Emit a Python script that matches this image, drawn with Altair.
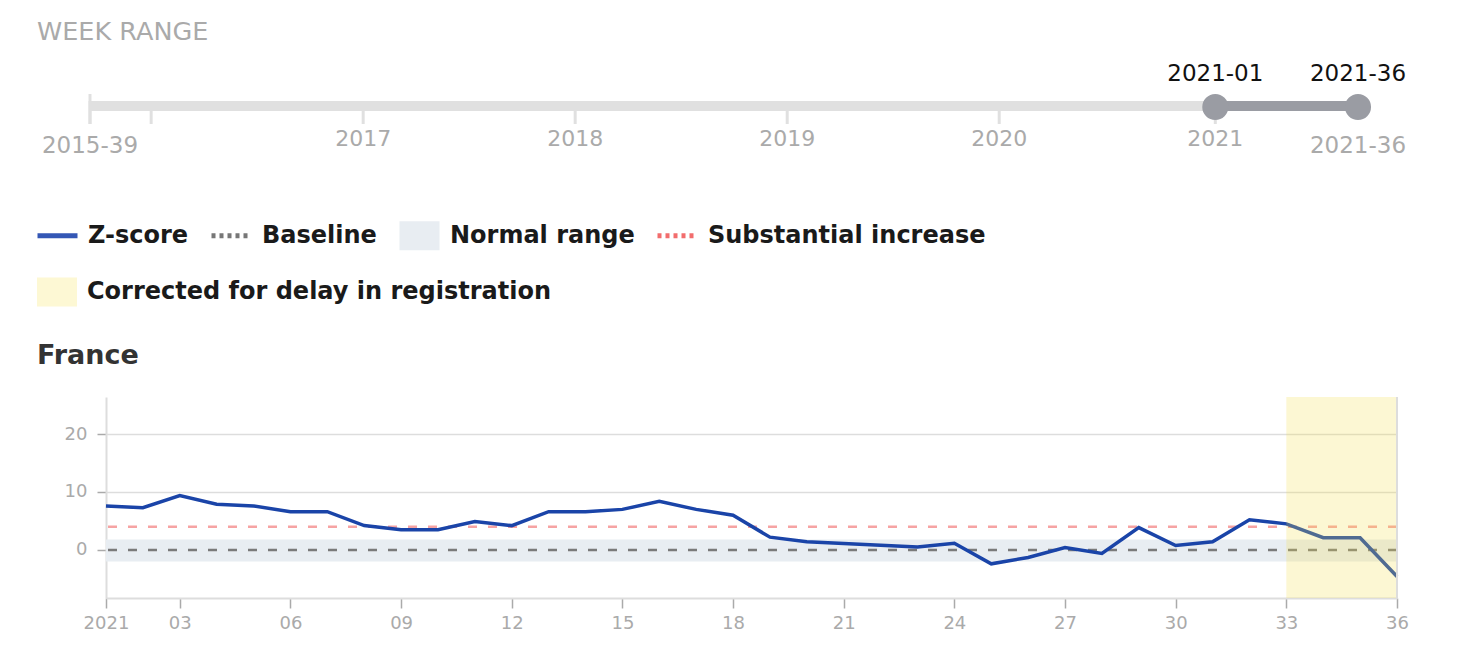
import altair as alt
import pandas as pd

# ---------------- data ----------------
WEEKS = list(range(1, 37))
ZSCORE = [7.6, 7.3, 9.4, 7.9, 7.6, 6.6, 6.6, 4.2, 3.5, 3.5, 4.9, 4.2,
          6.6, 6.6, 7.0, 8.4, 7.0, 6.0, 2.2, 1.4, 1.1, 0.8, 0.5, 1.15,
          -2.4, -1.3, 0.4, -0.6, 3.85, 0.75, 1.4, 5.2, 4.5, 2.1, 2.1, -4.6]
BASELINE = 0.0
NORMAL_LOW = -2.0
NORMAL_HIGH = 1.8
SUBSTANTIAL = 4.0
DELAY_START = 33
DELAY_END = 36
X_TICKS = [1, 3, 6, 9, 12, 15, 18, 21, 24, 27, 30, 33, 36]
Y_TICKS = [0, 10, 20]
Y_DOMAIN = [-8.3, 26.4]

# week-range slider (week index counted from 2015-39)
SLIDER_TICK_WEEKS = [0, 15, 67, 119, 171, 223, 276]
SLIDER_TICK_LABELS = ["", "", "2017", "2018", "2019", "2020", "2021"]
SLIDER_TOTAL = 311
SLIDER_END_WEEKS = [0, 311]
SLIDER_END_LABELS = ["2015-39", "2021-36"]
SEL_WEEKS = [276, 311]
SEL_LABELS = ["2021-01", "2021-36"]

LEGEND_ROW1 = ["Z-score", "Baseline", "Normal range", "Substantial increase"]
LEGEND_ROW2 = ["Corrected for delay in registration"]

FONT = "DejaVu Sans"
W = 1291
H = 201
SW = 1291
SH = 90

# ---------------- slider ----------------
sx = alt.Scale(domain=[0, SLIDER_TOTAL], range=[-16, 1252], nice=False, zero=False)

track_df = pd.DataFrame({"a": [0], "b": [SLIDER_TOTAL]})
ticks_df = pd.DataFrame({"w": SLIDER_TICK_WEEKS, "label": SLIDER_TICK_LABELS})
ends_df = pd.DataFrame({"w": SLIDER_END_WEEKS, "label": SLIDER_END_LABELS})
sel_df = pd.DataFrame({"w": SEL_WEEKS, "label": SEL_LABELS})
sel_seg_df = pd.DataFrame({"a": [SEL_WEEKS[0]], "b": [SEL_WEEKS[1]]})
leg1_df = pd.DataFrame({"k": LEGEND_ROW1})
leg2_df = pd.DataFrame({"c": LEGEND_ROW2})

# symbol paths share the same (square) bounds so legend rows line up
LINE_SYM = "M-1,-1M-1,0L1,0M1,1"
RECT_SYM = "M-1,-1M-1,-0.73L1,-0.73L1,0.73L-1,0.73ZM1,1"
common_leg = dict(orient="none", direction="horizontal", title=None,
                  symbolSize=1600, symbolOpacity=1, labelFont=FONT,
                  labelFontSize=24, labelFontWeight="bold", labelColor="#1a1a1a",
                  columnPadding=12, labelLimit=0)
legend1 = alt.Legend(legendX=-71, legendY=150, symbolStrokeWidth=5, labelOffset=8, **common_leg)
legend2 = alt.Legend(legendX=-69, legendY=209, symbolType=RECT_SYM, symbolStrokeWidth=0,
                     labelOffset=10, **common_leg)

leg_helper1 = alt.Chart(leg1_df).mark_point(size=2, filled=True).encode(
    x=alt.value(600), y=alt.value(43),
    fill=alt.Fill("k:N", scale=alt.Scale(domain=LEGEND_ROW1,
        range=["transparent", "transparent", "#e8edf2", "transparent"]), legend=legend1),
    stroke=alt.Stroke("k:N", scale=alt.Scale(domain=LEGEND_ROW1,
        range=["#3457b5", "#777777", "transparent", "#f26d6d"]), legend=legend1),
    shape=alt.Shape("k:N", scale=alt.Scale(domain=LEGEND_ROW1,
        range=[LINE_SYM, LINE_SYM, RECT_SYM, LINE_SYM]), legend=legend1),
    strokeDash=alt.StrokeDash("k:N", scale=alt.Scale(domain=LEGEND_ROW1,
        range=[[1, 0], [4, 4], [1, 0], [4, 4]]), legend=legend1),
)
leg_helper2 = alt.Chart(leg2_df).mark_point(size=2, filled=True, shape=RECT_SYM).encode(
    x=alt.value(700), y=alt.value(43),
    color=alt.Color("c:N", scale=alt.Scale(domain=LEGEND_ROW2, range=["#fdf8d4"]), legend=legend2),
)

track = alt.Chart(track_df).mark_rule(strokeWidth=10, color="#e0e0e0", strokeCap="butt").encode(
    x=alt.X("a:Q", scale=sx, axis=None), x2="b:Q", y=alt.value(43))
ticks = alt.Chart(ticks_df).mark_rule(strokeWidth=3, color="#e0e0e0").encode(
    x=alt.X("w:Q", scale=sx, axis=None), y=alt.value(38), y2=alt.value(61))
first_tick = alt.Chart(ends_df.head(1)).mark_rule(strokeWidth=3, color="#e0e0e0").encode(
    x=alt.X("w:Q", scale=sx, axis=None), y=alt.value(31), y2=alt.value(61))
year_labels = alt.Chart(ticks_df).mark_text(font=FONT, fontSize=22, color="#aaaaaa",
                                            baseline="middle").encode(
    x=alt.X("w:Q", scale=sx, axis=None), y=alt.value(76), text="label:N")
end_labels = alt.Chart(ends_df).mark_text(font=FONT, fontSize=23, color="#aaaaaa",
                                          baseline="middle").encode(
    x=alt.X("w:Q", scale=sx, axis=None), y=alt.value(83), text="label:N")
sel_seg = alt.Chart(sel_seg_df).mark_rule(strokeWidth=10, color="#9a9ca3", strokeCap="butt").encode(
    x=alt.X("a:Q", scale=sx, axis=None), x2="b:Q", y=alt.value(43))
handles = alt.Chart(sel_df).mark_circle(size=680, color="#9a9ca3", opacity=1).encode(
    x=alt.X("w:Q", scale=sx, axis=None), y=alt.value(44))
handle_labels = alt.Chart(sel_df).mark_text(font=FONT, fontSize=23, color="#111111",
                                            baseline="middle").encode(
    x=alt.X("w:Q", scale=sx, axis=None), y=alt.value(11), text="label:N")

slider = alt.layer(leg_helper1, leg_helper2, track, ticks, first_tick, year_labels, end_labels,
                   sel_seg, handles, handle_labels).properties(
    width=SW, height=SH,
    title=alt.TitleParams("WEEK RANGE", anchor="start", frame="group", dx=-69,
                          font=FONT, fontSize=25.5, fontWeight=400, color="#aaaaaa", offset=18))

# ---------------- main chart ----------------
z_df = pd.DataFrame({"week": WEEKS, "z": ZSCORE})
band_df = pd.DataFrame({"week": [WEEKS[0], WEEKS[-1]], "lo": [NORMAL_LOW] * 2, "hi": [NORMAL_HIGH] * 2})
delay_df = pd.DataFrame({"a": [DELAY_START], "b": [DELAY_END]})

xs = alt.Scale(domain=[WEEKS[0], WEEKS[-1]], nice=False, zero=False)
ys = alt.Scale(domain=Y_DOMAIN, nice=False, zero=False)

x_axis = alt.Axis(values=X_TICKS, grid=False, title=None,
                  labelExpr="datum.value == 1 ? '2021' : (datum.value < 10 ? '0' + datum.value : '' + datum.value)",
                  labelFont=FONT, labelFontSize=18, labelColor="#aaaaaa", labelPadding=6,
                  labelFlush=False, domainColor="#dddddd", domainWidth=2,
                  tickColor="#aaaaaa", tickSize=10, tickWidth=1.5)
y_axis = alt.Axis(values=Y_TICKS, title=None, grid=True, gridColor="#dddddd", gridWidth=1.5,
                  labelFont=FONT, labelFontSize=18, labelColor="#aaaaaa", labelPadding=10,
                  domainColor="#dddddd", domainWidth=2, tickColor="#aaaaaa",
                  tickSize=9, tickWidth=1.5)

band = alt.Chart(band_df).mark_area(color="#e8edf2", opacity=1).encode(
    x=alt.X("week:Q", scale=xs, axis=x_axis),
    y=alt.Y("lo:Q", scale=ys, axis=y_axis), y2="hi:Q")
subst = alt.Chart(pd.DataFrame({"v": [SUBSTANTIAL]})).mark_rule(
    color="#f6a3a3", strokeWidth=2.5, strokeDash=[9, 11]).encode(y=alt.Y("v:Q", scale=ys))
base = alt.Chart(pd.DataFrame({"v": [BASELINE]})).mark_rule(
    color="#7a7a7a", strokeWidth=2.5, strokeDash=[9, 11]).encode(y=alt.Y("v:Q", scale=ys))
line = alt.Chart(z_df).mark_line(color="#1a44a8", strokeWidth=3.5, strokeJoin="miter").encode(
    x=alt.X("week:Q", scale=xs), y=alt.Y("z:Q", scale=ys))
delay = alt.Chart(delay_df).mark_rect(color="#f5e050", opacity=0.25).encode(
    x=alt.X("a:Q", scale=xs), x2="b:Q", y=alt.value(0), y2=alt.value(H))
right_edge = alt.Chart(pd.DataFrame({"w": [WEEKS[-1]]})).mark_rule(
    color="#dddddd", strokeWidth=2).encode(x=alt.X("w:Q", scale=xs), y=alt.value(0), y2=alt.value(H))

main = alt.layer(band, subst, base, line, delay, right_edge).properties(
    width=W, height=H,
    title=alt.TitleParams("France", anchor="start", frame="group", dx=-69,
                          font=FONT, fontSize=27, fontWeight="bold", color="#333333", offset=26))

chart = alt.vconcat(slider, main, spacing=184).properties(
    background="white", padding={"left": 27, "top": 11, "right": 5, "bottom": 5}
).configure_view(strokeWidth=0, stroke="transparent")

chart.save("out.html", embed_options={"renderer": "svg", "actions": False})
